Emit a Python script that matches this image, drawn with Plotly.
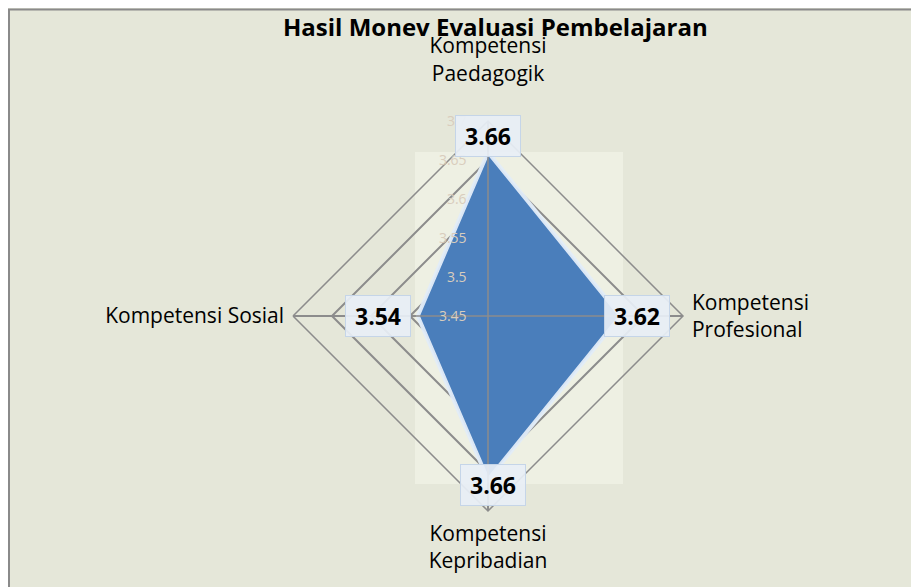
import math
import plotly.graph_objects as go

# ---- data ----
categories = ["Kompetensi Paedagogik", "Kompetensi Profesional",
              "Kompetensi Kepribadian", "Kompetensi Sosial"]
category_ticktext = ["Kompetensi<br>Paedagogik<br> ", "Kompetensi<br>Profesional",
                     "Kompetensi<br>Kepribadian", "Kompetensi Sosial"]
values = [3.66, 3.62, 3.66, 3.54]
value_labels = ["3.66", "3.62", "3.66", "3.54"]
radial_ticks = [3.45, 3.5, 3.55, 3.6, 3.65, 3.7]
radial_ticktext = ["3.45", "3.5", "3.55", "3.6", "3.65", "3.7"]
title_text = "Hasil Monev Evaluasi Pembelajaran"

RMIN, RMAX = 3.45, 3.7

# ---- layout geometry (figure pixels) ----
W, H = 919, 587
CX, CY, R = 480, 308, 195
FONT = "Open Sans"

fig = go.Figure()

# filled data polygon
fig.add_trace(go.Scatterpolar(
    r=values + [values[0]], theta=categories + [categories[0]],
    mode="lines", fill="toself", fillcolor="#4a7ebb",
    line=dict(color="rgba(225,236,248,0.95)", width=4),
    hoverinfo="skip", showlegend=False))

# spokes drawn above the fill
for c in categories:
    fig.add_trace(go.Scatterpolar(
        r=[RMIN, RMAX], theta=[c, c], mode="lines",
        line=dict(color="#8c8c8c", width=1.5),
        hoverinfo="skip", showlegend=False))

fig.update_layout(
    width=W, height=H,
    margin=dict(l=0, r=0, t=0, b=0),
    paper_bgcolor="#e5e7d9",
    plot_bgcolor="#e5e7d9",
    font=dict(family=FONT, color="#000000"),
    polar=dict(
        domain=dict(x=[(CX - R) / W, (CX + R) / W],
                    y=[(H - CY - R) / H, (H - CY + R) / H]),
        bgcolor="rgba(0,0,0,0)",
        gridshape="linear",
        radialaxis=dict(
            range=[RMIN, RMAX], tickvals=radial_ticks, ticktext=radial_ticktext,
            angle=90, tickangle=90, side="counterclockwise",
            showline=False, gridcolor="#8c8c8c", gridwidth=1.5,
            tickfont=dict(size=14, color="#d9cdbd", family=FONT),
            ticks="outside", ticklen=16, tickcolor="rgba(0,0,0,0)",
            layer="above traces"),
        angularaxis=dict(
            rotation=90, direction="clockwise",
            tickvals=categories, ticktext=category_ticktext,
            showline=True, linecolor="#8c8c8c", linewidth=1.5,
            gridcolor="#8c8c8c", gridwidth=1.5,
            ticks="outside", ticklen=4, tickcolor="rgba(0,0,0,0)",
            tickfont=dict(size=21, color="#000000", family=FONT)),
    ),
    showlegend=False,
)

# lighter inner plot-area rectangle and chart border
fig.add_shape(type="rect", xref="paper", yref="paper",
              x0=407 / W, x1=615 / W, y0=1 - 476 / H, y1=1 - 144 / H,
              fillcolor="#eef0e3", line=dict(width=0), layer="below")
fig.add_shape(type="rect", xref="paper", yref="paper",
              x0=1 / W, x1=1.02, y0=-0.02, y1=1 - 1.5 / H,
              fillcolor="rgba(0,0,0,0)", line=dict(color="#8a8a8a", width=2),
              layer="above")

# data labels in boxes, anchored to the data points
angles = [90, 0, -90, 180]
shifts = [(0, 16), (16, 0), (5, -5), (-40, 0)]
for v, lab, a, (dx, dy) in zip(values, value_labels, angles, shifts):
    frac = (v - RMIN) / (RMAX - RMIN)
    px = CX + R * frac * math.cos(math.radians(a))
    py = CY - R * frac * math.sin(math.radians(a))
    fig.add_annotation(
        x=px / W, y=1 - py / H, xref="paper", yref="paper",
        xanchor="center", yanchor="middle",
        text="<b>" + lab + "</b>", showarrow=False,
        xshift=dx, yshift=dy, width=62, height=38,
        bgcolor="rgba(232,239,246,0.92)", bordercolor="#c5d5e8", borderwidth=1,
        font=dict(size=23, color="#000000", family=FONT))

fig.add_annotation(
    x=488 / W, y=1 - 18 / H, xref="paper", yref="paper",
    xanchor="center", yanchor="middle",
    text="<b>" + title_text + "</b>", showarrow=False,
    font=dict(size=24, color="#000000", family=FONT))

fig.write_html("out.html")
